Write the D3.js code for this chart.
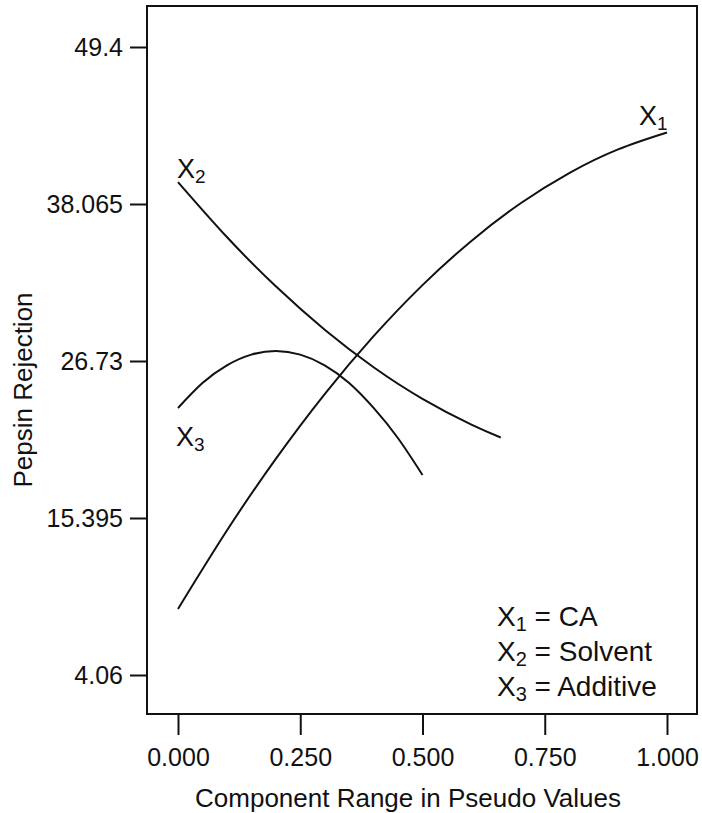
<!DOCTYPE html>
<html>
<head>
<meta charset="utf-8">
<script src="https://cdn.jsdelivr.net/npm/d3@7"></script>
<style>
  body { margin: 0; background: #fff; }
  text { font-family: "Liberation Sans", Arial, sans-serif; fill: #111; }
</style>
</head>
<body>
<svg id="chart" width="702" height="813"></svg>
<script>
var FONT_SIZE = 25;
var TITLE_SIZE = 26;
var LABEL_SIZE = 27;
var LEGEND_SIZE = 28;
var LINE_COLOR = "#111";

// values
var x1X = [0, 0.1, 0.2, 0.3, 0.4, 0.5, 0.6, 0.7, 0.8, 0.9, 1.0];
var x1Y = [8.83, 14.49, 19.66, 24.34, 28.52, 32.21, 35.40, 38.10, 40.30, 42.01, 43.23];
var x2X = [0, 0.1, 0.2, 0.3, 0.4, 0.5, 0.6, 0.66];
var x2Y = [39.65, 35.68, 32.12, 28.99, 26.28, 24.00, 22.13, 21.21];
var x3X = [0, 0.05, 0.1, 0.15, 0.2, 0.25, 0.3, 0.35, 0.4, 0.45, 0.5];
var x3Y = [23.34, 25.14, 26.42, 27.19, 27.45, 27.19, 26.42, 25.14, 23.34, 21.15, 18.5];

var xTicks = [0, 0.25, 0.5, 0.75, 1.0];
var yTicks = [4.06, 15.395, 26.73, 38.065, 49.4];
var yTickLabels = ["4.06", "15.395", "26.73", "38.065", "49.4"];
var seriesNames = ["1", "2", "3"];
var legendLabels = ["CA", "Solvent", "Additive"];

var svg = d3.select("#chart");

var x = d3.scaleLinear().domain([0, 1]).range([178, 667]);
var y = d3.scaleLinear().domain([4.06, 49.4]).range([675, 47]);

// frame
svg.append("rect")
  .attr("x", 147).attr("y", 6)
  .attr("width", 550).attr("height", 708)
  .attr("fill", "none")
  .attr("stroke", LINE_COLOR)
  .attr("stroke-width", 2);

// axes
var yAxis = svg.append("g")
  .attr("transform", "translate(147,0)")
  .call(d3.axisLeft(y).tickValues(yTicks).tickSize(17).tickPadding(7)
    .tickFormat(function(d, i) { return yTickLabels[i]; }));
var xAxis = svg.append("g")
  .attr("transform", "translate(0,714)")
  .call(d3.axisBottom(x).tickValues(xTicks).tickSize(21).tickPadding(13)
    .tickFormat(d3.format(".3f")));

[yAxis, xAxis].forEach(function(g) {
  g.select(".domain").remove();
  g.selectAll(".tick line").attr("stroke", LINE_COLOR).attr("stroke-width", 2);
  g.selectAll(".tick text")
    .attr("font-family", "Liberation Sans, Arial, sans-serif")
    .attr("font-size", FONT_SIZE)
    .attr("fill", "#111");
});

// axis titles
svg.append("text")
  .attr("x", 408).attr("y", 807)
  .attr("text-anchor", "middle")
  .attr("font-size", TITLE_SIZE)
  .text("Component Range in Pseudo Values");

svg.append("text")
  .attr("transform", "translate(32,390) rotate(-90)")
  .attr("text-anchor", "middle")
  .attr("font-size", TITLE_SIZE)
  .text("Pepsin Rejection");

// curves
var line = d3.line()
  .x(function(d) { return x(d[0]); })
  .y(function(d) { return y(d[1]); })
  .curve(d3.curveNatural);

[[x1X, x1Y], [x2X, x2Y], [x3X, x3Y]].forEach(function(s) {
  var pts = s[0].map(function(v, i) { return [v, s[1][i]]; });
  svg.append("path")
    .datum(pts)
    .attr("d", line)
    .attr("fill", "none")
    .attr("stroke", LINE_COLOR)
    .attr("stroke-width", 2);
});

// subscripted "X" label
var subLabel = function(px, py, size, sub, rest) {
  var t = svg.append("text")
    .attr("x", px).attr("y", py)
    .attr("font-size", size);
  t.append("tspan").text("X");
  t.append("tspan").attr("font-size", Math.round(size * 0.72)).attr("dy", 5).text(sub);
  if (rest) t.append("tspan").attr("dy", -5).text(" " + rest);
  return t;
};

subLabel(639, 125, LABEL_SIZE, seriesNames[0]);
subLabel(177, 178, LABEL_SIZE, seriesNames[1]);
subLabel(176, 446, LABEL_SIZE, seriesNames[2]);

// legend
var legendY = [626, 661, 696];
seriesNames.forEach(function(n, i) {
  subLabel(497, legendY[i], LEGEND_SIZE, n, "= " + legendLabels[i]);
});
</script>
</body>
</html>
